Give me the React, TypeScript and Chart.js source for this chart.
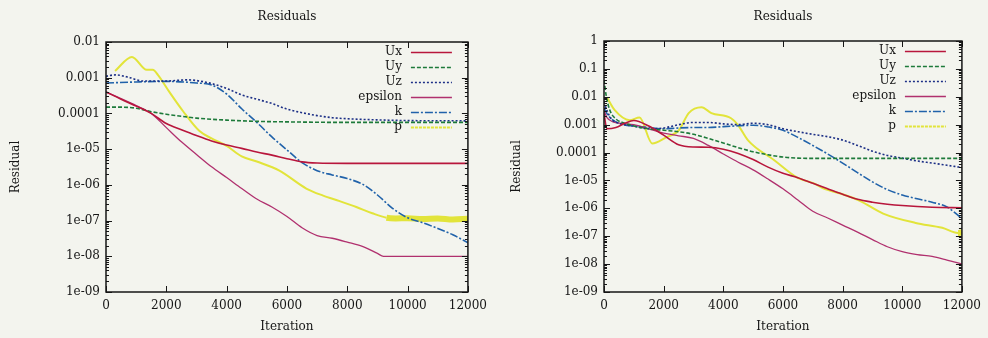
import { useEffect, useRef } from 'react';
import { Chart, registerables } from 'chart.js';

Chart.register(...registerables);

// ---- shared series styling -------------------------------------------------
const SERIES_NAMES = ['Ux', 'Uy', 'Uz', 'epsilon', 'k', 'p'];
const SERIES_COLORS = ['#b8163c', '#1d7a3a', '#1c2f86', '#b0306e', '#2062aa', '#e2e43a'];
const SERIES_DASHES: number[][] = [[], [4, 2], [2, 2], [], [8, 2, 2, 2], []];
const SERIES_WIDTHS = [1.6, 1.6, 1.6, 1.3, 1.6, 2];

const FONT = 'DejaVu Serif';
const INK = '#161616';

// ---- axes ------------------------------------------------------------------
const X_TICKS = [0, 2000, 4000, 6000, 8000, 10000, 12000];

const LEFT_Y_TICKS = [1e-2, 1e-3, 1e-4, 1e-5, 1e-6, 1e-7, 1e-8, 1e-9];
const LEFT_Y_LABELS = ['0.01', '0.001', '0.0001', '1e-05', '1e-06', '1e-07', '1e-08', '1e-09'];

const RIGHT_Y_TICKS = [1, 1e-1, 1e-2, 1e-3, 1e-4, 1e-5, 1e-6, 1e-7, 1e-8, 1e-9];
const RIGHT_Y_LABELS = ['1', '0.1', '0.01', '0.001', '0.0001', '1e-05', '1e-06', '1e-07', '1e-08', '1e-09'];

// ---- first run residuals ---------------------------------------------------
const L_UX_IT = [0, 500, 1000, 1500, 2000, 2500, 3000, 3500, 4000, 4500, 5000, 5500, 6000, 6500, 7000, 8000, 9000, 10000, 11000, 12000];
const L_UX = [4.0e-4, 2.5e-4, 1.6e-4, 1.0e-4, 5.2e-5, 3.5e-5, 2.4e-5, 1.7e-5, 1.3e-5, 1.05e-5, 8.3e-6, 6.8e-6, 5.4e-6, 4.4e-6, 4.1e-6, 4.0e-6, 4.0e-6, 4.0e-6, 4.0e-6, 4.0e-6];

const L_UY_IT = [0, 500, 1000, 1500, 2000, 2500, 3000, 4000, 5000, 6000, 8000, 10000, 12000];
const L_UY = [1.5e-4, 1.5e-4, 1.4e-4, 1.12e-4, 9.5e-5, 8.3e-5, 7.4e-5, 6.5e-5, 6.0e-5, 5.8e-5, 5.6e-5, 5.6e-5, 5.6e-5];

const L_UZ_IT = [0, 300, 800, 1200, 2000, 2700, 3400, 4000, 4500, 5000, 5500, 6000, 6500, 7000, 7500, 8000, 9000, 10000, 12000];
const L_UZ = [1.1e-3, 1.2e-3, 1.0e-3, 8.1e-4, 8.1e-4, 8.7e-4, 7.2e-4, 5.0e-4, 3.3e-4, 2.5e-4, 1.9e-4, 1.32e-4, 1.05e-4, 8.7e-5, 7.6e-5, 7.1e-5, 6.6e-5, 6.3e-5, 6.2e-5];

const L_EPS_IT = [0, 500, 1000, 1500, 2000, 2500, 3000, 3500, 4000, 4500, 5000, 5500, 6000, 6500, 7000, 7500, 8000, 8500, 9000, 9200, 10000, 11000, 12000];
const L_EPS = [4.0e-4, 2.6e-4, 1.66e-4, 1.0e-4, 4.0e-5, 1.6e-5, 7.1e-6, 3.2e-6, 1.6e-6, 7.9e-7, 4.0e-7, 2.4e-7, 1.3e-7, 6.3e-8, 3.8e-8, 3.2e-8, 2.5e-8, 1.9e-8, 1.2e-8, 1.0e-8, 1.0e-8, 1.0e-8, 1.0e-8];

const L_K_IT = [0, 1000, 2000, 3000, 3500, 4000, 4500, 5000, 5500, 6000, 6500, 7000, 7500, 8000, 8500, 9000, 9500, 10000, 10500, 11000, 11500, 12000];
const L_K = [7.1e-4, 7.6e-4, 7.9e-4, 7.1e-4, 6.3e-4, 3.5e-4, 1.35e-4, 5.6e-5, 2.2e-5, 9.5e-6, 4.2e-6, 2.5e-6, 1.9e-6, 1.5e-6, 1.05e-6, 5.2e-7, 2.2e-7, 1.2e-7, 8.7e-8, 6.0e-8, 4.0e-8, 2.4e-8];

const L_P_IT = [300, 860, 1350, 1550, 1720, 2100, 2550, 3100, 3500, 4000, 4500, 5000, 5750, 6640, 7200, 7750, 8300, 8830, 9300, 9600, 10000, 10500, 11000, 11500, 12000];
const L_P = [1.55e-3, 3.8e-3, 1.66e-3, 1.66e-3, 1.2e-3, 4.0e-4, 1.17e-4, 3.2e-5, 2.0e-5, 1.23e-5, 6.3e-6, 4.5e-6, 2.5e-6, 7.9e-7, 5.0e-7, 3.5e-7, 2.4e-7, 1.6e-7, 1.2e-7, 1.15e-7, 1.17e-7, 1.1e-7, 1.15e-7, 1.07e-7, 1.12e-7];

// ---- second run residuals --------------------------------------------------
const R_UX_IT = [0, 100, 400, 700, 1000, 1500, 2000, 2500, 3000, 3500, 4000, 4500, 5000, 5500, 6000, 6500, 7000, 7500, 8000, 8500, 9000, 9500, 10000, 11000, 12000];
const R_UX = [2.5e-3, 7.1e-4, 7.9e-4, 1.12e-3, 1.41e-3, 8.9e-4, 4.2e-4, 1.9e-4, 1.58e-4, 1.55e-4, 1.32e-4, 9.3e-5, 5.6e-5, 3.0e-5, 1.8e-5, 1.26e-5, 7.9e-6, 5.0e-6, 3.2e-6, 2.1e-6, 1.66e-6, 1.41e-6, 1.26e-6, 1.1e-6, 1.05e-6];

const R_UY_IT = [0, 80, 200, 400, 700, 1000, 1500, 2000, 2500, 3000, 3500, 4000, 4500, 5000, 5500, 6000, 6500, 7000, 8000, 10000, 12000];
const R_UY = [4.0e-2, 1.0e-2, 3.2e-3, 1.6e-3, 1.12e-3, 8.9e-4, 7.1e-4, 6.3e-4, 5.6e-4, 4.5e-4, 3.2e-4, 2.2e-4, 1.5e-4, 1.07e-4, 8.3e-5, 6.9e-5, 6.3e-5, 6.2e-5, 6.2e-5, 6.2e-5, 6.2e-5];

const R_UZ_IT = [0, 100, 250, 500, 1000, 1500, 2000, 2500, 3000, 3500, 4000, 4500, 5000, 5500, 6000, 6500, 7000, 7500, 8000, 8500, 9000, 9500, 10000, 10500, 11000, 11500, 12000];
const R_UZ = [6.3e-3, 3.2e-3, 1.6e-3, 1.12e-3, 8.9e-4, 7.1e-4, 7.6e-4, 1.0e-3, 1.2e-3, 1.2e-3, 1.07e-3, 1.0e-3, 1.12e-3, 1.0e-3, 7.1e-4, 5.6e-4, 4.5e-4, 3.7e-4, 2.8e-4, 1.8e-4, 1.12e-4, 7.9e-5, 6.3e-5, 5.0e-5, 4.2e-5, 3.5e-5, 2.9e-5];

const R_EPS_IT = [0, 100, 300, 600, 1000, 1500, 2000, 2500, 3000, 3500, 4000, 4500, 5000, 5500, 6000, 6500, 7000, 7500, 8000, 8500, 9000, 9500, 10000, 10500, 11000, 11500, 12000];
const R_EPS = [3.2e-3, 1.8e-3, 1.26e-3, 1.12e-3, 1.0e-3, 7.1e-4, 5.0e-4, 4.0e-4, 3.2e-4, 1.8e-4, 8.9e-5, 4.5e-5, 2.4e-5, 1.12e-5, 5.0e-6, 2.0e-6, 7.9e-7, 4.5e-7, 2.5e-7, 1.4e-7, 7.6e-8, 4.2e-8, 2.8e-8, 2.2e-8, 1.9e-8, 1.4e-8, 1.0e-8];

const R_K_IT = [0, 100, 250, 500, 1000, 1500, 2000, 2500, 3000, 3500, 4000, 4500, 5000, 5500, 6000, 6500, 7000, 7500, 8000, 8500, 9000, 9500, 10000, 10500, 11000, 11500, 12000];
const R_K = [4.0e-3, 2.5e-3, 1.6e-3, 1.12e-3, 8.9e-4, 7.9e-4, 7.1e-4, 7.6e-4, 7.9e-4, 7.9e-4, 8.5e-4, 9.1e-4, 9.5e-4, 8.3e-4, 6.3e-4, 3.5e-4, 1.8e-4, 8.9e-5, 4.2e-5, 1.9e-5, 8.9e-6, 4.7e-6, 3.0e-6, 2.2e-6, 1.66e-6, 1.12e-6, 4.3e-7];

const R_P_IT = [100, 360, 860, 1190, 1620, 2080, 2510, 2840, 3270, 3600, 4260, 4500, 4830, 5720, 6480, 7040, 7370, 8000, 8560, 9360, 10450, 11340, 11870, 12000];
const R_P = [9.5e-3, 3.3e-3, 1.45e-3, 1.8e-3, 2.1e-4, 3.5e-4, 6.3e-4, 2.6e-3, 4.2e-3, 2.6e-3, 1.7e-3, 9.5e-4, 2.75e-4, 5.2e-5, 1.26e-5, 7.8e-6, 5.1e-6, 3.2e-6, 1.9e-6, 6.5e-7, 3.0e-7, 2.0e-7, 1.3e-7, 1.4e-7];

const pairs = (it: number[], v: number[]) => it.map((x, i) => ({ x, y: v[i] }));

type PlotProps = {
  left: number;
  width: number;
  series: { x: number; y: number }[][];
  yTicks: number[];
  yLabels: string[];
  axisWidth: number;
  rightPad: number;
  titleBottomPad: number;
  yTitlePad: number;
  pBandFrom: number;
};

function ResidualPlot(props: PlotProps) {
  const ref = useRef<HTMLCanvasElement>(null);

  useEffect(() => {
    const canvas = ref.current;
    if (!canvas) return;
    const { series, yTicks, yLabels, axisWidth, rightPad, titleBottomPad, yTitlePad, pBandFrom } = props;
    const yMax = yTicks[0];
    const yMin = yTicks[yTicks.length - 1];

    // gnuplot-style frame: full border, inward ticks on all sides, key inside
    const frame = {
      id: 'gnuplotFrame',
      afterDraw(chart: any) {
        const { ctx, chartArea: a, scales } = chart;
        const xs = scales.x;
        const ys = scales.y;
        ctx.save();
        ctx.strokeStyle = INK;
        ctx.lineWidth = 1;
        ctx.beginPath();
        const e0 = Math.round(Math.log10(yMin));
        const e1 = Math.round(Math.log10(yMax));
        for (let e = e0; e < e1; e++) {
          for (let m = 2; m <= 9; m++) {
            const py = Math.round(ys.getPixelForValue(m * Math.pow(10, e))) + 0.5;
            ctx.moveTo(a.left, py);
            ctx.lineTo(a.left + 3, py);
            ctx.moveTo(a.right, py);
            ctx.lineTo(a.right - 3, py);
          }
        }
        yTicks.forEach((v) => {
          const py = Math.round(ys.getPixelForValue(v)) + 0.5;
          ctx.moveTo(a.left, py);
          ctx.lineTo(a.left + 6, py);
          ctx.moveTo(a.right, py);
          ctx.lineTo(a.right - 6, py);
        });
        X_TICKS.forEach((v) => {
          const px = Math.round(xs.getPixelForValue(v)) + 0.5;
          ctx.moveTo(px, a.bottom);
          ctx.lineTo(px, a.bottom - 6);
          ctx.moveTo(px, a.top);
          ctx.lineTo(px, a.top + 6);
        });
        ctx.stroke();
        ctx.lineWidth = 1.5;
        ctx.strokeRect(a.left, a.top, a.right - a.left, a.bottom - a.top);

        // key
        ctx.font = `12px "${FONT}"`;
        ctx.textAlign = 'right';
        ctx.textBaseline = 'middle';
        chart.data.datasets.forEach((ds: any, i: number) => {
          const y = a.top + 10 + i * 15;
          ctx.fillStyle = INK;
          ctx.fillText(ds.label, a.right - 66, y);
          ctx.beginPath();
          ctx.setLineDash(ds.borderDash && ds.borderDash.length ? ds.borderDash : i === 5 ? [3, 1] : []);
          ctx.strokeStyle = ds.borderColor;
          ctx.lineWidth = i === 5 ? 2 : 1.5;
          ctx.moveTo(a.right - 57, y + 0.5);
          ctx.lineTo(a.right - 16, y + 0.5);
          ctx.stroke();
        });
        ctx.restore();
      },
    };

    const tickFont = { family: FONT, size: 12 };

    const chart = new Chart(canvas, {
      type: 'line',
      data: {
        datasets: series.map((data, i) => ({
          label: SERIES_NAMES[i],
          data,
          borderColor: SERIES_COLORS[i],
          borderDash: SERIES_DASHES[i],
          borderWidth: SERIES_WIDTHS[i],
          pointRadius: 0,
          fill: false,
          cubicInterpolationMode: 'monotone' as const,
          segment:
            i === 5
              ? { borderWidth: (c: any) => (c.p0.parsed.x >= pBandFrom ? 6 : SERIES_WIDTHS[i]) }
              : undefined,
        })),
      },
      options: {
        animation: false,
        responsive: false,
        devicePixelRatio: 1,
        layout: { padding: { left: 0, right: rightPad, top: 0, bottom: 0 } },
        plugins: {
          legend: { display: false },
          tooltip: { enabled: false },
          title: {
            display: true,
            text: 'Residuals',
            fullSize: false,
            color: INK,
            font: { family: FONT, size: 12, weight: 'normal' },
            padding: { top: 10, bottom: titleBottomPad },
          },
        },
        scales: {
          x: {
            type: 'linear',
            min: 0,
            max: 12000,
            afterBuildTicks: (s: any) => {
              s.ticks = X_TICKS.map((value) => ({ value }));
            },
            ticks: {
              autoSkip: false,
              maxRotation: 0,
              padding: 7,
              color: INK,
              font: tickFont,
              callback: (v: any) => String(v),
            },
            grid: { display: false, drawTicks: false },
            border: { display: false },
            title: {
              display: true,
              text: 'Iteration',
              color: INK,
              font: tickFont,
              padding: { top: 0, bottom: 4 },
            },
            afterFit: (s: any) => {
              s.height = 46;
            },
          },
          y: {
            type: 'logarithmic',
            min: yMin,
            max: yMax,
            afterBuildTicks: (s: any) => {
              s.ticks = yTicks.map((value) => ({ value }));
            },
            ticks: {
              autoSkip: false,
              padding: 6,
              color: INK,
              font: tickFont,
              callback: (_v: any, idx: number) => yLabels[idx],
            },
            grid: { display: false, drawTicks: false },
            border: { display: false },
            title: {
              display: true,
              text: 'Residual',
              color: INK,
              font: tickFont,
              padding: { top: yTitlePad, bottom: 0 },
            },
            afterFit: (s: any) => {
              s.width = axisWidth;
            },
          },
        },
      },
      plugins: [frame],
    } as any);

    return () => chart.destroy();
  }, []);

  return (
    <canvas
      ref={ref}
      width={props.width}
      height={338}
      style={{ position: 'absolute', left: props.left, top: 0, width: props.width, height: 338 }}
    />
  );
}

export default function App() {
  const leftSeries = [
    pairs(L_UX_IT, L_UX),
    pairs(L_UY_IT, L_UY),
    pairs(L_UZ_IT, L_UZ),
    pairs(L_EPS_IT, L_EPS),
    pairs(L_K_IT, L_K),
    pairs(L_P_IT, L_P),
  ];
  const rightSeries = [
    pairs(R_UX_IT, R_UX),
    pairs(R_UY_IT, R_UY),
    pairs(R_UZ_IT, R_UZ),
    pairs(R_EPS_IT, R_EPS),
    pairs(R_K_IT, R_K),
    pairs(R_P_IT, R_P),
  ];
  return (
    <div
      style={{
        position: 'absolute',
        left: 0,
        top: 0,
        width: 988,
        height: 338,
        background: '#f3f4ee',
        overflow: 'hidden',
      }}
    >
      <ResidualPlot
        left={0}
        width={494}
        series={leftSeries}
        yTicks={LEFT_Y_TICKS}
        yLabels={LEFT_Y_LABELS}
        axisWidth={106}
        rightPad={26}
        titleBottomPad={17.6}
        yTitlePad={9}
        pBandFrom={9200}
      />
      <ResidualPlot
        left={494}
        width={494}
        series={rightSeries}
        yTicks={RIGHT_Y_TICKS}
        yLabels={RIGHT_Y_LABELS}
        axisWidth={110}
        rightPad={21}
        titleBottomPad={16.6}
        yTitlePad={16}
        pBandFrom={11500}
      />
    </div>
  );
}
